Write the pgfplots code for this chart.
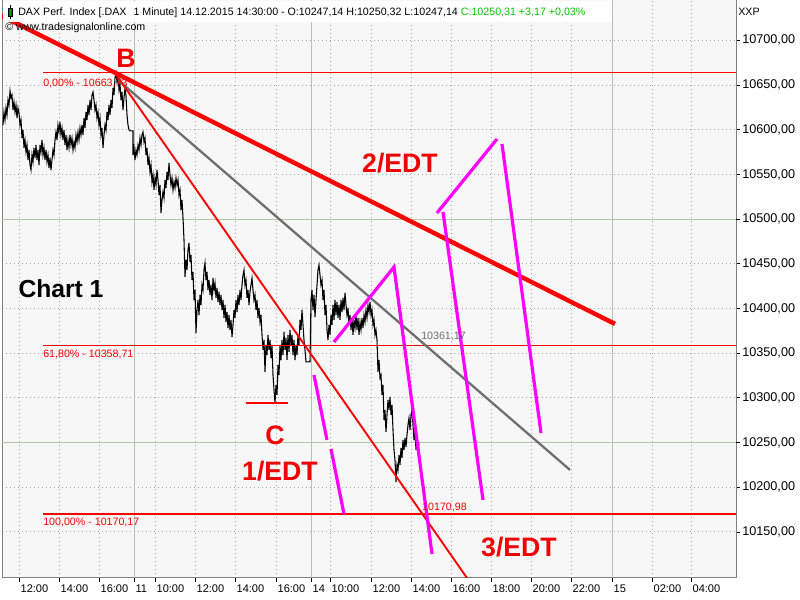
\documentclass[border=0pt]{standalone}
\usepackage{fontspec}
\setmainfont{Liberation Sans}
\usepackage{pgfplots}
\pgfplotsset{compat=1.18}
\usepackage{pgfplotstable}
\definecolor{bgcol}{RGB}{247,247,247}
\definecolor{gridgray}{RGB}{165,165,165}
\definecolor{gridgreen}{RGB}{176,200,168}
\definecolor{framecol}{RGB}{128,128,128}
\definecolor{linegray}{RGB}{110,110,110}
\definecolor{mag}{RGB}{255,0,255}
\definecolor{fibred}{RGB}{255,0,0}
\definecolor{lblred}{RGB}{240,0,0}
\definecolor{hdrgreen}{RGB}{0,200,0}
\newcommand\smallf{\fontsize{8pt}{9.6pt}\selectfont}
\newcommand\bigf{\fontsize{20pt}{24pt}\selectfont\bfseries}

% x = 3-minute slot index on the compressed session time axis, v = price
\pgfplotstableread{
x v
3 10605.3
4 10619.8
5 10610.9
6 10624.3
7 10616.5
8 10633.2
9 10627.6
10 10643.3
11 10635.5
12 10638.8
13 10622.0
14 10631.0
15 10619.8
16 10627.6
17 10613.1
18 10624.3
19 10618.7
20 10605.3
21 10610.9
22 10590.7
23 10599.7
24 10579.6
25 10588.5
26 10575.1
27 10582.9
28 10566.1
29 10577.3
30 10560.5
31 10554.9
32 10571.7
33 10563.9
34 10579.6
35 10568.4
36 10582.9
37 10566.1
38 10577.3
39 10560.5
40 10582.9
41 10575.1
42 10588.5
43 10571.7
44 10579.6
45 10566.1
46 10577.3
47 10563.9
48 10571.7
49 10557.2
50 10568.4
51 10554.9
52 10566.1
53 10577.3
54 10571.7
55 10588.5
56 10597.4
57 10588.5
58 10605.3
59 10597.4
60 10608.6
61 10594.1
62 10601.9
63 10588.5
64 10599.7
65 10582.9
66 10594.1
67 10577.3
68 10588.5
69 10579.6
70 10594.1
71 10582.9
72 10590.7
73 10577.3
74 10586.3
75 10579.6
76 10594.1
77 10586.3
78 10597.4
79 10588.5
80 10601.9
81 10594.1
82 10605.3
83 10594.1
84 10613.1
85 10601.9
86 10619.8
87 10610.9
88 10627.6
89 10616.5
90 10633.2
91 10622.0
92 10638.8
93 10642.2
94 10633.2
95 10622.0
96 10627.6
97 10613.1
98 10619.8
99 10605.3
100 10613.1
101 10594.1
102 10601.9
103 10579.6
104 10594.1
105 10605.3
106 10599.7
107 10619.8
108 10610.9
109 10627.6
110 10616.5
111 10633.2
112 10624.3
113 10646.7
114 10638.8
115 10657.9
116 10663.4
117 10653.4
118 10660.1
119 10644.4
120 10651.1
121 10633.2
122 10642.2
123 10622.0
124 10635.5
125 10646.7
126 10637.7
127 10616.5
128 10605.3
129 10599.7
130 10598.6
133 10598.6
133 10571.7
134 10579.6
135 10566.1
136 10577.3
137 10571.7
138 10582.9
139 10577.3
140 10590.7
141 10582.9
142 10594.1
143 10597.4
144 10586.3
145 10590.7
146 10571.7
147 10579.6
148 10560.5
149 10568.4
150 10552.7
151 10560.5
152 10541.5
153 10549.3
154 10532.6
155 10546.0
156 10538.2
157 10554.9
158 10543.8
159 10527.0
160 10538.2
161 10506.8
162 10521.4
163 10530.3
164 10523.6
165 10543.8
166 10534.8
167 10552.7
168 10543.8
169 10562.8
170 10549.3
171 10538.2
172 10546.0
173 10532.6
174 10541.5
175 10534.8
176 10546.0
177 10538.2
178 10543.8
179 10527.0
180 10532.6
181 10510.2
182 10521.4
183 10501.3
184 10476.6
185 10435.3
186 10454.3
187 10443.1
188 10465.5
189 10473.3
190 10452.0
191 10459.9
192 10431.9
193 10440.8
194 10409.5
195 10420.7
196 10372.6
197 10398.3
198 10409.5
199 10392.7
200 10415.1
201 10403.9
202 10426.3
203 10420.7
204 10443.1
205 10450.9
206 10431.9
207 10440.8
208 10420.7
209 10431.9
210 10415.1
211 10426.3
212 10409.5
213 10434.1
214 10420.7
215 10428.5
216 10411.8
217 10422.9
218 10407.3
219 10418.5
220 10403.9
221 10415.1
222 10398.3
223 10409.5
224 10389.4
225 10403.9
226 10384.9
227 10396.1
228 10378.2
229 10392.7
230 10376.0
231 10387.2
232 10368.1
233 10381.6
234 10398.3
235 10389.4
236 10409.5
237 10396.1
238 10415.1
239 10403.9
240 10420.7
241 10409.5
242 10426.3
243 10437.5
244 10443.1
245 10426.3
246 10431.9
247 10411.8
248 10420.7
249 10403.9
250 10418.5
251 10426.3
252 10434.1
253 10420.7
254 10409.5
255 10415.1
256 10398.3
257 10409.5
258 10389.4
259 10400.6
260 10384.9
261 10392.7
262 10370.4
263 10353.6
264 10364.8
265 10329.0
266 10359.2
267 10348.0
268 10370.4
269 10353.6
270 10364.8
271 10344.6
272 10359.2
273 10325.6
274 10308.9
275 10294.3
276 10314.4
277 10303.3
278 10336.8
279 10325.6
280 10359.2
281 10342.4
282 10364.8
283 10348.0
284 10373.7
285 10353.6
286 10367.0
287 10342.4
288 10370.4
289 10351.4
290 10376.0
291 10359.2
292 10370.4
293 10348.0
294 10364.8
295 10342.4
296 10359.2
297 10348.0
298 10370.4
299 10359.2
300 10387.2
301 10376.0
302 10398.3
303 10381.6
304 10364.8
305 10353.6
306 10340.2
310 10340.2
311 10409.5
312 10420.7
313 10398.3
314 10415.1
315 10390.5
316 10409.5
317 10426.3
318 10443.1
319 10448.7
320 10437.5
321 10426.3
322 10431.9
323 10409.5
324 10420.7
325 10392.7
326 10403.9
327 10376.0
328 10364.8
329 10381.6
330 10370.4
331 10392.7
332 10381.6
333 10403.9
334 10387.2
335 10409.5
336 10392.7
337 10407.3
338 10389.4
339 10403.9
340 10387.2
341 10409.5
342 10396.1
343 10411.8
344 10398.3
345 10417.4
346 10403.9
347 10392.7
348 10400.6
349 10381.6
350 10392.7
351 10376.0
352 10389.4
353 10370.4
354 10387.2
355 10378.2
356 10392.7
357 10376.0
358 10389.4
359 10370.4
360 10384.9
361 10376.0
362 10389.4
363 10378.2
364 10392.7
365 10384.9
366 10398.3
367 10389.4
368 10403.9
369 10396.1
370 10407.3
371 10392.7
372 10398.3
373 10381.6
374 10387.2
375 10370.4
376 10376.0
377 10364.8
378 10329.0
379 10342.4
380 10322.3
381 10325.6
382 10303.3
383 10314.4
384 10275.3
385 10286.5
386 10261.9
387 10280.9
388 10297.7
389 10286.5
390 10301.0
391 10280.9
392 10292.1
393 10264.1
394 10241.7
395 10230.5
396 10205.9
397 10225.0
398 10219.4
399 10236.1
400 10225.0
401 10244.0
402 10232.8
403 10252.9
404 10241.7
405 10255.2
406 10245.1
407 10258.5
408 10269.7
409 10277.5
410 10264.1
411 10280.9
412 10286.5
413 10269.7
414 10252.9
415 10261.9
416 10241.7
417 10252.9
418 10238.4
419 10250.3
}\pricedata

\begin{document}
\begin{tikzpicture}
\begin{axis}[
  at={(0,0)}, anchor=south west,
  scale only axis, width=550.5pt, height=433.5pt,
  xmin=2, xmax=736, ymin=10098.5, ymax=10745.1,
  scaled x ticks=false, scaled y ticks=false,
  axis background/.style={fill=bgcol},
  axis line style={draw=framecol, line width=0.75pt},
  xtick={19,59,99,155,195,235,276,330,371,411,451,491,531,571,652,691},
  xticklabels={12:00,14:00,16:00,10:00,12:00,14:00,16:00,10:00,12:00,14:00,16:00,18:00,20:00,22:00,02:00,04:00},
  extra x ticks={134,311,612},
  extra x tick labels={11,14,15},
  extra x tick style={grid=major, major grid style={draw=gridgreen, solid, line width=0.75pt}},
  ytick={10150,10200,10250,10300,10350,10400,10450,10500,10550,10600,10650,10700},
  yticklabels={{10150,00},{10200,00},{10250,00},{10300,00},{10350,00},{10400,00},{10450,00},{10500,00},{10550,00},{10600,00},{10650,00},{10700,00}},
  extra y ticks={10250,10500},
  extra y tick labels={{},{}},
  extra y tick style={grid=major, major grid style={draw=gridgreen, solid, line width=0.75pt}},
  grid=major,
  major grid style={draw=gridgray, line width=0.75pt, dash pattern=on 0.75pt off 2.25pt},
  xtick pos=bottom, ytick pos=right, yticklabel pos=right,
  tick align=outside, major tick length=3pt,
  tick style={draw=black, line width=0.6pt},
  xticklabel style={font=\fontsize{8.3pt}{10pt}\selectfont, anchor=north west, inner sep=0pt, xshift=1pt, yshift=-2pt},
  yticklabel style={font=\fontsize{9.5pt}{11pt}\selectfont, anchor=west, inner sep=0pt, xshift=1.5pt},
  clip=true,
]
% price (1-minute close, sampled)
\addplot[black, line width=0.8pt] table[x=x, y=v] {\pricedata};
% Fibonacci levels
\addplot[fibred, line width=0.9pt] coordinates {(43,10663.73) (740,10663.73)};
\addplot[fibred, line width=0.9pt] coordinates {(43,10358.71) (740,10358.71)};
\addplot[fibred, line width=0.9pt] coordinates {(43,10170.17) (740,10170.17)};
% low C marker
\addplot[fibred, line width=1pt] coordinates {(246,10294.3) (288,10294.3)};
% trend lines
\addplot[linegray, line width=1.7pt] coordinates {(118,10655.6) (570,10219.4)};
\addplot[fibred, line width=1.4pt] coordinates {(115,10663.4) (475,10085.7)};
\addplot[fibred, line width=3.3pt] coordinates {(-5,10731.1) (615,10382.7)};
% EDT projections
\addplot[mag, line width=2.4pt] coordinates {(314,10325.6) (327,10252.9)};
\addplot[mag, line width=2.4pt] coordinates {(331,10242.9) (344,10170.1)};
\addplot[mag, line width=2.4pt] coordinates {(334,10362.5) (394,10446.4) (432,10125.4)};
\addplot[mag, line width=2.4pt] coordinates {(437,10506.8) (497,10589.6)};
\addplot[mag, line width=2.4pt] coordinates {(443,10508.0) (483,10185.8)};
\addplot[mag, line width=2.4pt] coordinates {(502,10584.0) (541,10260.8)};
\end{axis}
\begin{scope}[x=0.75pt, y=-0.75pt, shift={(-1.5pt,433.5pt)}]
  % header
  \fill[white] (3,1) rectangle (612,22);
  \draw[black, line width=0.5pt] (10,5) -- (10,19);
  \filldraw[fill=green!55!black, draw=black, line width=0.5pt] (8,8) rectangle (12,16);
  \node[anchor=base west, inner sep=0pt, font=\smallf] at (18,16)
    {DAX Perf. Index [.DAX\hspace{3pt} 1 Minute] 14.12.2015 14:30:00 - O:10247,14 H:10250,32 L:10247,14 \textcolor{hdrgreen}{C:10250,31 +3,17 +0,03\%}};
  \node[anchor=base west, inner sep=0pt, font=\smallf] at (5,31) {© www.tradesignalonline.com};
  \node[anchor=base west, inner sep=0pt, font=\smallf] at (738,16) {XXP};
  % level labels
  \node[anchor=base west, inner sep=0pt, font=\smallf, text=fibred] at (43,87) {0,00\% - 10663,73};
  \node[anchor=base west, inner sep=0pt, font=\smallf, text=fibred] at (43,358) {61,80\% - 10358,71};
  \node[anchor=base west, inner sep=0pt, font=\smallf, text=fibred] at (43,526) {100,00\% - 10170,17};
  \node[anchor=base west, inner sep=0pt, font=\smallf, text=linegray] at (421,340) {10361,17};
  \node[anchor=base west, inner sep=0pt, font=\smallf, text=fibred] at (422,511) {10170,98};
  % annotations
  \node[anchor=base, inner sep=0pt, font=\bigf, text=lblred] at (126,68) {B};
  \node[anchor=base, inner sep=0pt, font=\bigf, text=lblred] at (275,445) {C};
  \node[anchor=base, inner sep=0pt, font=\bigf, text=lblred] at (280,481) {1/EDT};
  \node[anchor=base, inner sep=0pt, font=\bigf, text=lblred] at (400,173) {2/EDT};
  \node[anchor=base, inner sep=0pt, font=\bigf, text=lblred] at (519,557) {3/EDT};
  \node[anchor=base, inner sep=0pt, font=\fontsize{18.5pt}{22pt}\selectfont\bfseries, text=black] at (61,298) {Chart 1};
\end{scope}
\pgfresetboundingbox
\path (-1.5pt,-16.5pt) rectangle (598.5pt,433.5pt);
\end{tikzpicture}
\end{document}
